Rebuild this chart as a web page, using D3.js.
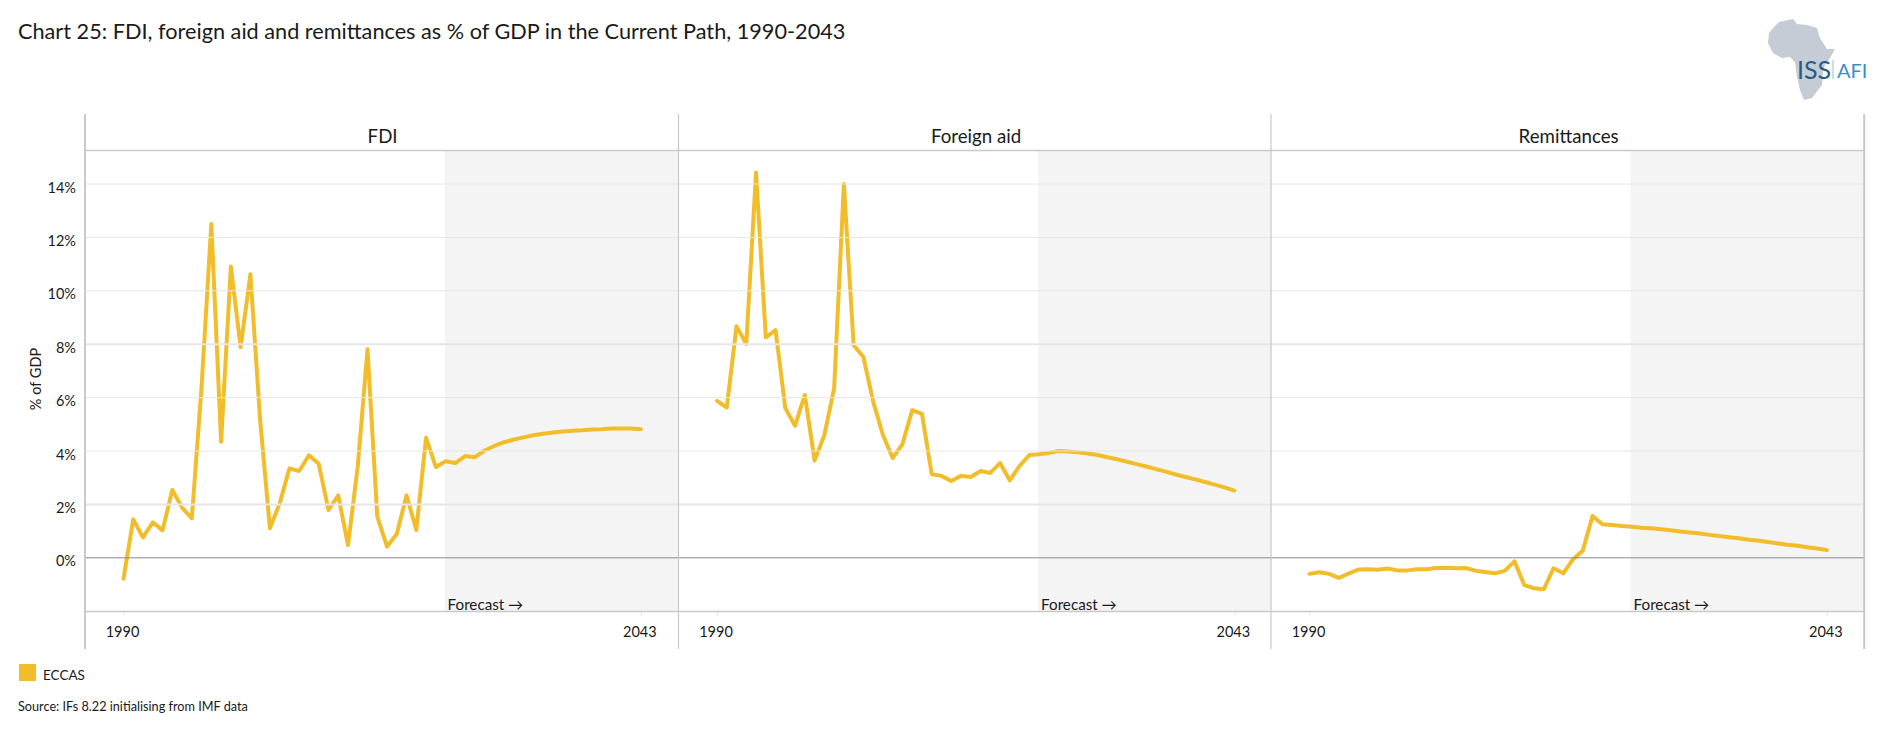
<!DOCTYPE html>
<html>
<head>
<meta charset="utf-8">
<script src="https://cdn.jsdelivr.net/npm/d3@7"></script>
<style>
  html, body { margin: 0; padding: 0; background: #fff; }
  svg { display: block; }
  text { font-family: Lato, "Open Sans", sans-serif; fill: #1a1a1a; }
</style>
</head>
<body>
<div id="chart"></div>
<script>
// ---- Data
const startYear = 1990;
const endYear = 2043;
const forecastStart = 2022.9;
const yTicks = [0, 2, 4, 6, 8, 10, 12, 14];
const panelTitles = ['FDI', 'Foreign aid', 'Remittances'];
const seriesName = 'ECCAS';

const fdiValues = [
  -0.80, 1.42, 0.74, 1.31, 1.01, 2.52, 1.86, 1.46, 6.40, 12.48,
  4.33, 10.89, 7.87, 10.60, 5.14, 1.09, 2.02, 3.33, 3.23, 3.82,
  3.50, 1.77, 2.32, 0.46, 3.40, 7.79, 1.52, 0.40, 0.87, 2.32,
  1.02, 4.48, 3.38, 3.60, 3.53, 3.79, 3.75, 4.00, 4.17, 4.31,
  4.41, 4.49, 4.57, 4.63, 4.67, 4.71, 4.74, 4.76, 4.79, 4.80,
  4.82, 4.82, 4.82, 4.80
];
const aidValues = [
  5.86, 5.61, 8.65, 7.99, 14.41, 8.24, 8.51, 5.58, 4.93, 6.08,
  3.62, 4.58, 6.33, 13.98, 7.94, 7.50, 5.83, 4.58, 3.72, 4.24,
  5.51, 5.37, 3.11, 3.05, 2.86, 3.05, 3.01, 3.23, 3.16, 3.53,
  2.88, 3.42, 3.83, 3.86, 3.91, 3.98, 3.96, 3.93, 3.89, 3.83,
  3.75, 3.67, 3.58, 3.49, 3.40, 3.30, 3.21, 3.10, 3.01, 2.92,
  2.82, 2.72, 2.62, 2.50
];
const remittanceValues = [
  -0.62, -0.56, -0.62, -0.77, -0.61, -0.46, -0.45, -0.47, -0.42, -0.49,
  -0.49, -0.45, -0.45, -0.40, -0.39, -0.41, -0.40, -0.50, -0.55, -0.60,
  -0.51, -0.15, -1.04, -1.16, -1.20, -0.41, -0.60, -0.07, 0.25, 1.55,
  1.24, 1.21, 1.17, 1.14, 1.11, 1.09, 1.05, 1.01, 0.97, 0.93,
  0.89, 0.84, 0.80, 0.75, 0.71, 0.66, 0.62, 0.57, 0.52, 0.47,
  0.43, 0.38, 0.33, 0.27
];
const panelValues = [fdiValues, aidValues, remittanceValues];

// ---- Layout
const width = 1880;
const height = 739;
const panelLefts = [85, 678.5, 1271];
const panelWidth = 593.2;
const frameTop = 114;
const headerY = 150.5;
const plotBottom = 611.5;
const frameBottom = 649;
const lineColor = '#f2bd2a';

const svg = d3.select('#chart').append('svg')
  .attr('width', width)
  .attr('height', height);

const y = d3.scaleLinear().domain([0, 14]).range([557.3, 183.5]);

// ---- Title
svg.append('text')
  .attr('x', 18)
  .attr('y', 39)
  .style('font-size', '21.7px')
  .text('Chart 25: FDI, foreign aid and remittances as % of GDP in the Current Path, 1990-2043');

// ---- Forecast shading goes under the gridlines
const panels = svg.selectAll('.panel')
  .data(panelTitles)
  .join('g')
  .attr('class', 'panel')
  .attr('transform', (_d, i) => `translate(${panelLefts[i]},0)`);

const x = d3.scaleLinear().domain([startYear, endYear]).range([38.5, 38.5 + 517.3]);

panels.append('rect')
  .attr('x', x(forecastStart))
  .attr('y', headerY)
  .attr('width', panelWidth - x(forecastStart))
  .attr('height', plotBottom - headerY)
  .attr('fill', '#f4f4f4');

// ---- Gridlines and y axis
const yAxis = svg.append('g')
  .attr('transform', `translate(${panelLefts[0]},0)`)
  .call(d3.axisLeft(y).tickValues(yTicks).tickFormat((d) => `${d}%`).tickSize(0).tickPadding(9));
yAxis.select('.domain').remove();
yAxis.selectAll('.tick text')
  .attr('dy', '0.66em')
  .attr('y', -1)
  .style('font-size', '14.5px')
  .style('font-family', 'Lato, sans-serif');
yAxis.selectAll('.tick line')
  .attr('x2', panelWidth * 3)
  .attr('stroke', (d) => d === 0 ? '#8a8a8a' : '#e6e6e6')
  .attr('stroke-width', (d) => (d === 8 || d === 2) ? 2 : 1);

svg.append('text')
  .attr('transform', 'translate(41,379) rotate(-90)')
  .attr('text-anchor', 'middle')
  .style('font-size', '14.5px')
  .text('% of GDP');

// ---- Frame lines
svg.append('line')
  .attr('x1', panelLefts[0]).attr('x2', panelLefts[0] + panelWidth * 3)
  .attr('y1', headerY).attr('y2', headerY)
  .attr('stroke', '#c9c9c9').attr('stroke-width', 1.5);
svg.append('line')
  .attr('x1', panelLefts[0]).attr('x2', panelLefts[0] + panelWidth * 3)
  .attr('y1', plotBottom).attr('y2', plotBottom)
  .attr('stroke', '#c9c9c9').attr('stroke-width', 1.5);

const dividers = [...panelLefts, panelLefts[2] + panelWidth];
svg.selectAll('.divider')
  .data(dividers)
  .join('line')
  .attr('class', 'divider')
  .attr('x1', (d) => d).attr('x2', (d) => d)
  .attr('y1', frameTop).attr('y2', frameBottom)
  .attr('stroke', '#c9c9c9')
  .attr('stroke-width', (_d, i) => (i === 0 || i === 3) ? 2 : 1.2);

// ---- Panel titles, x axes, forecast labels and lines
panels.append('text')
  .attr('x', panelWidth / 2 + 1)
  .attr('y', 142.5)
  .attr('text-anchor', 'middle')
  .style('font-size', '18.7px')
  .text((d) => d);

panels.append('g')
  .attr('transform', `translate(0,${plotBottom})`)
  .each(function () {
    const axis = d3.select(this).call(
      d3.axisBottom(x).tickValues([startYear, endYear]).tickFormat(d3.format('d')).tickSize(5).tickPadding(10)
    );
    axis.select('.domain').remove();
    axis.selectAll('.tick line').attr('stroke', '#e8e8e8');
    axis.selectAll('.tick text')
      .attr('x', -1.5)
      .style('font-size', '14.5px')
      .style('font-family', 'Lato, sans-serif');
  });

panels.append('text')
  .attr('x', x(forecastStart) + 3)
  .attr('y', 610)
  .style('font-size', '15.2px')
  .text('Forecast →');

const line = d3.line()
  .x((_d, i) => x(startYear + i))
  .y((d) => y(d));

panels.append('path')
  .attr('d', (_d, i) => line(panelValues[i]))
  .attr('fill', 'none')
  .attr('stroke', lineColor)
  .attr('stroke-width', 4)
  .attr('stroke-linejoin', 'round')
  .attr('stroke-linecap', 'round');

// ---- Legend and source
svg.append('rect')
  .attr('x', 19).attr('y', 664)
  .attr('width', 17).attr('height', 17)
  .attr('fill', lineColor);
svg.append('text')
  .attr('x', 43).attr('y', 680)
  .style('font-size', '13.5px')
  .text(seriesName);
svg.append('text')
  .attr('x', 18).attr('y', 711)
  .style('font-size', '12.7px')
  .text('Source: IFs 8.22 initialising from IMF data');

// ---- ISS AFI logo
const africaOutline = [
  [39, 22], [53, 19], [57, 24], [67, 25], [77, 28], [80, 38], [87, 49], [95, 49],
  [90, 58], [85, 65], [83, 72], [82, 85], [72, 98], [64, 100], [60, 90], [57, 77],
  [55, 62], [50, 57], [42, 58], [33, 53], [28, 43], [29, 33], [33, 28]
];
const logo = svg.append('g').attr('transform', 'translate(1740,0)');
logo.append('path')
  .attr('d', d3.line().curve(d3.curveLinearClosed)(africaOutline))
  .attr('fill', '#c5ccd5');
logo.append('text')
  .attr('x', 57).attr('y', 79)
  .style('font-size', '25px')
  .style('fill', '#2a5a86')
  .text('ISS');
logo.append('line')
  .attr('x1', 93).attr('x2', 93)
  .attr('y1', 60).attr('y2', 79)
  .attr('stroke', '#b9d6cb').attr('stroke-width', 1.5);
logo.append('text')
  .attr('x', 97).attr('y', 78)
  .style('font-size', '20px')
  .style('fill', '#3c8fc6')
  .text('AFI');
</script>
</body>
</html>
